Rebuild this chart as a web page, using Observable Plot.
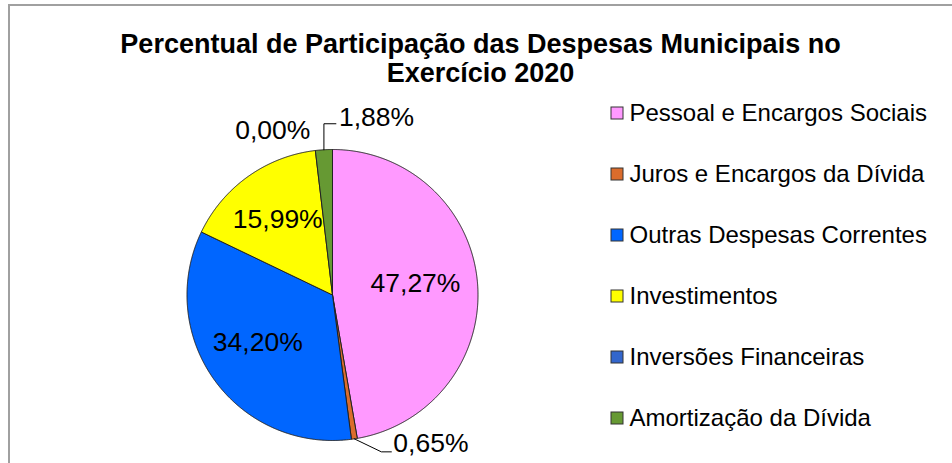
<!DOCTYPE html>
<html>
<head>
<meta charset="utf-8">
<script src="https://cdn.jsdelivr.net/npm/d3@7"></script>
<script src="https://cdn.jsdelivr.net/npm/@observablehq/plot@0.6"></script>
<style>
  html, body { margin: 0; padding: 0; background: #fff; }
  #chart svg { display: block; font-family: "Liberation Sans", Arial, sans-serif; }
</style>
</head>
<body>
<div id="chart"></div>
<script>
// ---- data ----
const titleText = "Percentual de Participação das Despesas Municipais no\nExercício 2020";
const categories = [
  "Pessoal e Encargos Sociais",
  "Juros e Encargos da Dívida",
  "Outras Despesas Correntes",
  "Investimentos",
  "Inversões Financeiras",
  "Amortização da Dívida"
];
const values = [47.27, 0.65, 34.20, 15.99, 0.00, 1.88];
const valueLabels = ["47,27%", "0,65%", "34,20%", "15,99%", "0,00%", "1,88%"];
const colors = ["#FF99FF", "#DB6C2C", "#0066FF", "#FFFF00", "#3366CC", "#669933"];

// ---- layout (styling constants) ----
const W = 952, H = 463;
const cx = 332, cy = 294.5, R = 145.5;
const labelK = 0.6;
// outside-label leader offsets (px) relative to arc point
const outside = {
  "Amortização da Dívida": {leader: [[0, -26], [12, -26]], text: [15, -32], anchor: "start"},
  "Juros e Encargos da Dívida": {leader: [[27, 13], [37, 13]], text: [39, 5], anchor: "start"},
  "Inversões Financeiras": {leader: [], text: [-5, -20], anchor: "end"}
};

const arcs = d3.pie().sort(null).value(d => d)(values);
const pt = (a, r) => [cx + r * Math.sin(a), cy - r * Math.cos(a)];

// slice polygons
const slicePts = [];
arcs.forEach((a, i) => {
  if (values[i] <= 0) return;
  const cat = categories[i];
  slicePts.push({cat, x: cx, y: cy});
  const n = Math.max(2, Math.ceil((a.endAngle - a.startAngle) / 0.005));
  for (let j = 0; j <= n; j++) {
    const ang = a.startAngle + (a.endAngle - a.startAngle) * j / n;
    const [x, y] = pt(ang, R);
    slicePts.push({cat, x, y});
  }
  slicePts.push({cat, x: cx, y: cy});
});

// labels
const insideLabels = [], outsideLabels = [], leaders = [];
arcs.forEach((a, i) => {
  const mid = (a.startAngle + a.endAngle) / 2;
  const cat = categories[i];
  if (values[i] >= 5) {
    const [x, y] = pt(mid, R * labelK);
    insideLabels.push({x: x - 4, y: y - 4, text: valueLabels[i]});
  } else {
    const o = outside[cat];
    const [x0, y0] = pt(mid, R);
    if (o.leader.length) {
      leaders.push({cat, x: x0, y: y0});
      o.leader.forEach(([dx, dy]) => leaders.push({cat, x: x0 + dx, y: y0 + dy}));
    }
    outsideLabels.push({x: x0 + o.text[0], y: y0 + o.text[1], text: valueLabels[i], anchor: o.anchor});
  }
});

// legend
const legend = categories.map((c, i) => ({cat: c, y: 113 + i * 61}));

const plot = Plot.plot({
  width: W,
  height: H,
  margin: 0,
  x: {domain: [0, W], axis: null},
  y: {domain: [0, H], reverse: true, axis: null},
  color: {type: "ordinal", domain: categories, range: colors},
  style: {fontFamily: "'Liberation Sans', Arial, sans-serif", background: "#fff"},
  marks: [
    // chart border (top and left)
    Plot.ruleY([4.5], {x1: 8, x2: W, stroke: "#a0a0a0", strokeWidth: 2}),
    Plot.ruleX([8.5], {y1: 4, y2: H, stroke: "#a0a0a0", strokeWidth: 2}),
    // title
    Plot.text([titleText], {x: 480, y: 58, text: d => d, fontSize: 27, fontWeight: "bold", lineHeight: 1.05, fill: "#000"}),
    // pie slices
    Plot.line(slicePts, {x: "x", y: "y", z: "cat", fill: "cat", stroke: "#222", strokeWidth: 1, curve: "linear", strokeLinejoin: "round"}),
    // leader lines
    Plot.line(leaders, {x: "x", y: "y", z: "cat", stroke: "#000", strokeWidth: 1}),
    // labels
    Plot.text(insideLabels, {x: "x", y: "y", text: "text", fontSize: 26.5, fill: "#000"}),
    Plot.text(outsideLabels.filter(d => d.anchor === "start"), {x: "x", y: "y", text: "text", fontSize: 26.5, fill: "#000", textAnchor: "start"}),
    Plot.text(outsideLabels.filter(d => d.anchor === "end"), {x: "x", y: "y", text: "text", fontSize: 26.5, fill: "#000", textAnchor: "end"}),
    // legend
    Plot.rect(legend, {x1: 611, x2: 623, y1: d => d.y - 6, y2: d => d.y + 6, fill: "cat", stroke: "#333", strokeWidth: 1}),
    Plot.text(legend, {x: 629, y: "y", text: "cat", fontSize: 24, fill: "#000", textAnchor: "start"})
  ]
});
document.getElementById("chart").appendChild(plot);
</script>
</body>
</html>
